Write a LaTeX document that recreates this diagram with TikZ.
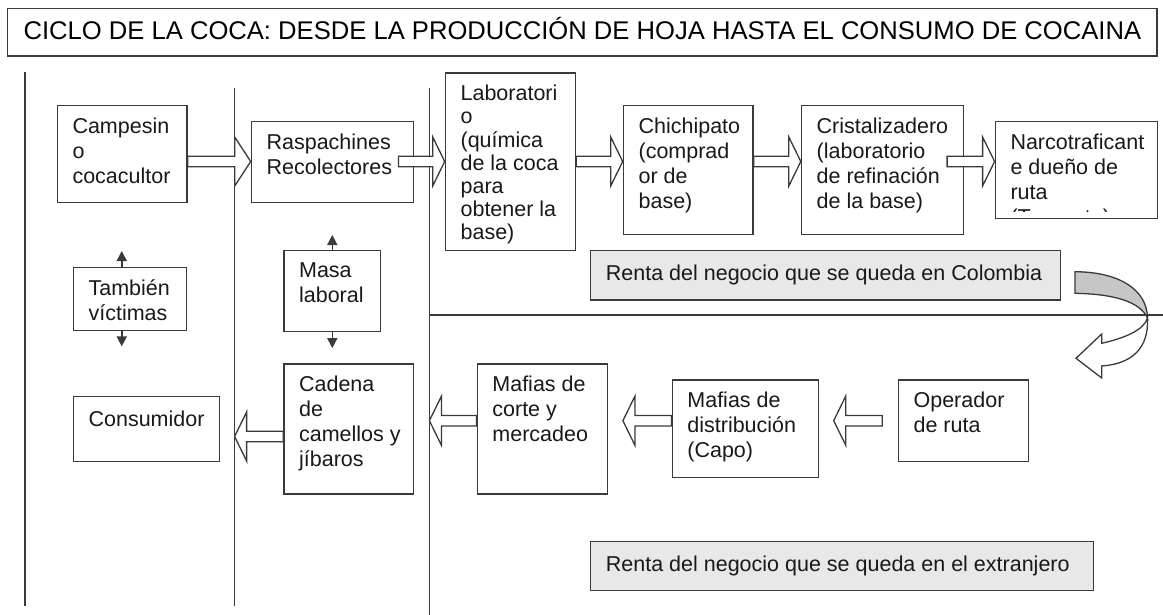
\documentclass[tikz,border=0pt]{standalone}
\usepackage{fontspec}
\setmainfont{Liberation Sans}
\usetikzlibrary{calc, arrows.meta}

\definecolor{linea}{HTML}{3A3A3A}
\definecolor{grisclaro}{HTML}{E8E8E8}
\definecolor{griscinta}{HTML}{C6C6C6}

\tikzset{
  interlinea/.initial=25pt,
  rotulo/.style={anchor=north west, align=left, inner sep=0pt, minimum width=0pt, minimum height=0pt,
    draw=none, fill=none, execute at begin node=\strut,
    font=\fontsize{21.5}{\pgfkeysvalueof{/tikz/interlinea}}\selectfont, text=black!90},
  caja/.style n args={3}{draw=linea, fill=white, line width=1.4pt, anchor=north west,
    minimum width=#1, minimum height=#2, inner sep=0pt,
    path picture={\node[rotulo] at ([shift={(14.5pt,-11.5pt)}]path picture bounding box.north west) {#3};}},
  divisoria/.style={draw=linea, line width=1.4pt},
  flecha/.style={draw=linea, fill=white, line width=1.3pt, line join=miter,
    to path={let \p1=(\tikztostart), \p2=(\tikztotarget), \n1={((\x2>\x1)*2-1)*#1} in
      (\x1,\y1+5.2pt) -- (\x2-\n1*1pt,\y1+5.2pt) -- (\x2-\n1*1pt,\y1+24.5pt) -- (\x2,\y1)
      -- (\x2-\n1*1pt,\y1-24.5pt) -- (\x2-\n1*1pt,\y1-5.2pt) -- (\x1,\y1-5.2pt) -- cycle}},
  flecha/.default=12,
  flechita/.style={draw=linea, line width=1.6pt, -{Triangle[length=10pt, width=10pt]}},
  cinta/.style={draw=linea, line width=1.3pt, line join=miter}
}

\begin{document}
\begin{tikzpicture}[x=1pt, y=-1pt]
  \useasboundingbox (0,0) rectangle (1163,615);

  % titulo
  \node[draw=linea, line width=1.4pt, minimum width=1149.3, minimum height=47.7, inner sep=0pt,
    text height=18.4pt, text depth=3.6pt, font=\fontsize{25.6}{29}\selectfont] (titulo) at (582.4,32.2)
    {CICLO DE LA COCA: DESDE LA PRODUCCIÓN DE HOJA HASTA EL CONSUMO DE COCAINA};

  % lineas divisorias
  \coordinate (lin1) at (24.9,71.7);
  \coordinate (lin2) at (234.6,88.3);
  \coordinate (lin3) at (429.4,88.3);
  \coordinate (filaA) at (0,161.5);
  \coordinate (filaB) at (0,420.7);
  \coordinate (filaC) at (0,436.5);
  \draw[divisoria] (lin1) -- ++(0,534.3);
  \draw[divisoria] (lin2) -- ++(0,517.7);
  \draw[divisoria] (lin3) -- ++(0,526.7);
  \draw[divisoria] (lin3 |- 0,315) -- (1163,315);

  % fila de arriba
  \node[caja={129.8}{96.7}{Campesin\\o\\cocacultor}] (camp) at (56.6,105) {};
  \node[caja={161.8}{81}{Raspachines\\Recolectores}] (rasp) at (250.7,120.7) {};
  \node[interlinea=23.2pt, caja={130.1}{177.7}{Laboratori\\o\\(química\\de la coca\\para\\obtener la\\base)}] (lab) at (444.7,72.3) {};
  \node[caja={129.6}{129}{Chichipato\\(comprad\\or de\\base)}] (chichi) at (622.7,105) {};
  \node[caja={161.9}{129}{Cristalizadero\\(laboratorio\\de refinación\\de la base)}] (crist) at (800.8,105) {};
  \node[caja={162.4}{97}{}, path picture={
      \clip ([yshift=6.5pt]path picture bounding box.south west) rectangle (path picture bounding box.north east);
      \node[rotulo] at ([shift={(14.5pt,-11.5pt)}]path picture bounding box.north west)
        {Narcotraficant\\e dueño de\\ruta\\(Traqueto)};}] (narco) at (994.6,120.7) {};
  \node[caja={470}{49.3}{Renta del negocio que se queda en Colombia}, fill=grisclaro] (colombia) at (590,250) {};

  \draw[flecha=16] (camp.east |- filaA) to (rasp.west |- filaA);
  \draw[flecha] ($(rasp.east |- filaA)+(-15.5,0)$) to (lab.west |- filaA);
  \draw[flecha] (lab.east |- filaA) to (chichi.west |- filaA);
  \draw[flecha] (chichi.east |- filaA) to (crist.west |- filaA);
  \draw[flecha] ($(crist.east |- filaA)+(-17,0)$) to (narco.west |- filaA);

  % victimas y masa laboral
  \node[caja={113.3}{63.3}{También\\víctimas}] (tamb) at (72.7,266.7) {};
  \node[caja={96.8}{80.7}{Masa\\laboral}] (masa) at (283.2,250) {};
  \draw[flechita] ([xshift=-8.3pt]tamb.north) -- ++(0,-15.7);
  \draw[flechita] ([xshift=-8.3pt]tamb.south) -- ++(0,15);
  \draw[flechita] (masa.north) -- ++(0,-15);
  \draw[flechita] (masa.south) -- ++(0,16);

  % fila de abajo
  \node[caja={146.3}{65.3}{Consumidor}] (consu) at (72.7,395.7) {};
  \node[caja={129.3}{130}{Cadena\\de\\camellos y\\jíbaros}] (cad) at (283.2,363.3) {};
  \node[caja={130.5}{130}{Mafias de\\corte y\\mercadeo}] (corte) at (476.5,363.3) {};
  \node[caja={146.2}{97.4}{Mafias de\\distribución\\(Capo)}] (distrib) at (671.5,379.3) {};
  \node[caja={130}{81.7}{Operador\\de ruta}] (oper) at (897.7,379.3) {};
  \node[caja={502.7}{49.3}{Renta del negocio que se queda en el extranjero}, fill=grisclaro] (extranjero) at (590,540.7) {};

  \draw[flecha] (cad.west |- filaC) to (lin2 |- filaC);
  \draw[flecha] (corte.west |- filaB) to (lin3 |- filaB);
  \draw[flecha] (distrib.west |- filaB) to ($(corte.east |- filaB)+(14.5,0)$);
  \draw[flecha] ($(oper.west |- filaB)+(-15.4,0)$) to ($(distrib.east |- filaB)+(14.6,0)$);

  % cinta curva
  \filldraw[cinta, fill=griscinta] (1075,271.7) .. controls (1120,272) and (1147,290) .. (1147.5,318)
    .. controls (1140,302) and (1115,294) .. (1075,293.3) -- cycle;
  \filldraw[cinta, fill=white] (1147.5,318) .. controls (1149,348) and (1132,364) .. (1101.7,366)
    -- (1101.7,378) -- (1076,358.3) -- (1101.7,334) -- (1101.7,343.3)
    .. controls (1125,338) and (1144,330) .. (1147.5,318) -- cycle;
\end{tikzpicture}
\end{document}
